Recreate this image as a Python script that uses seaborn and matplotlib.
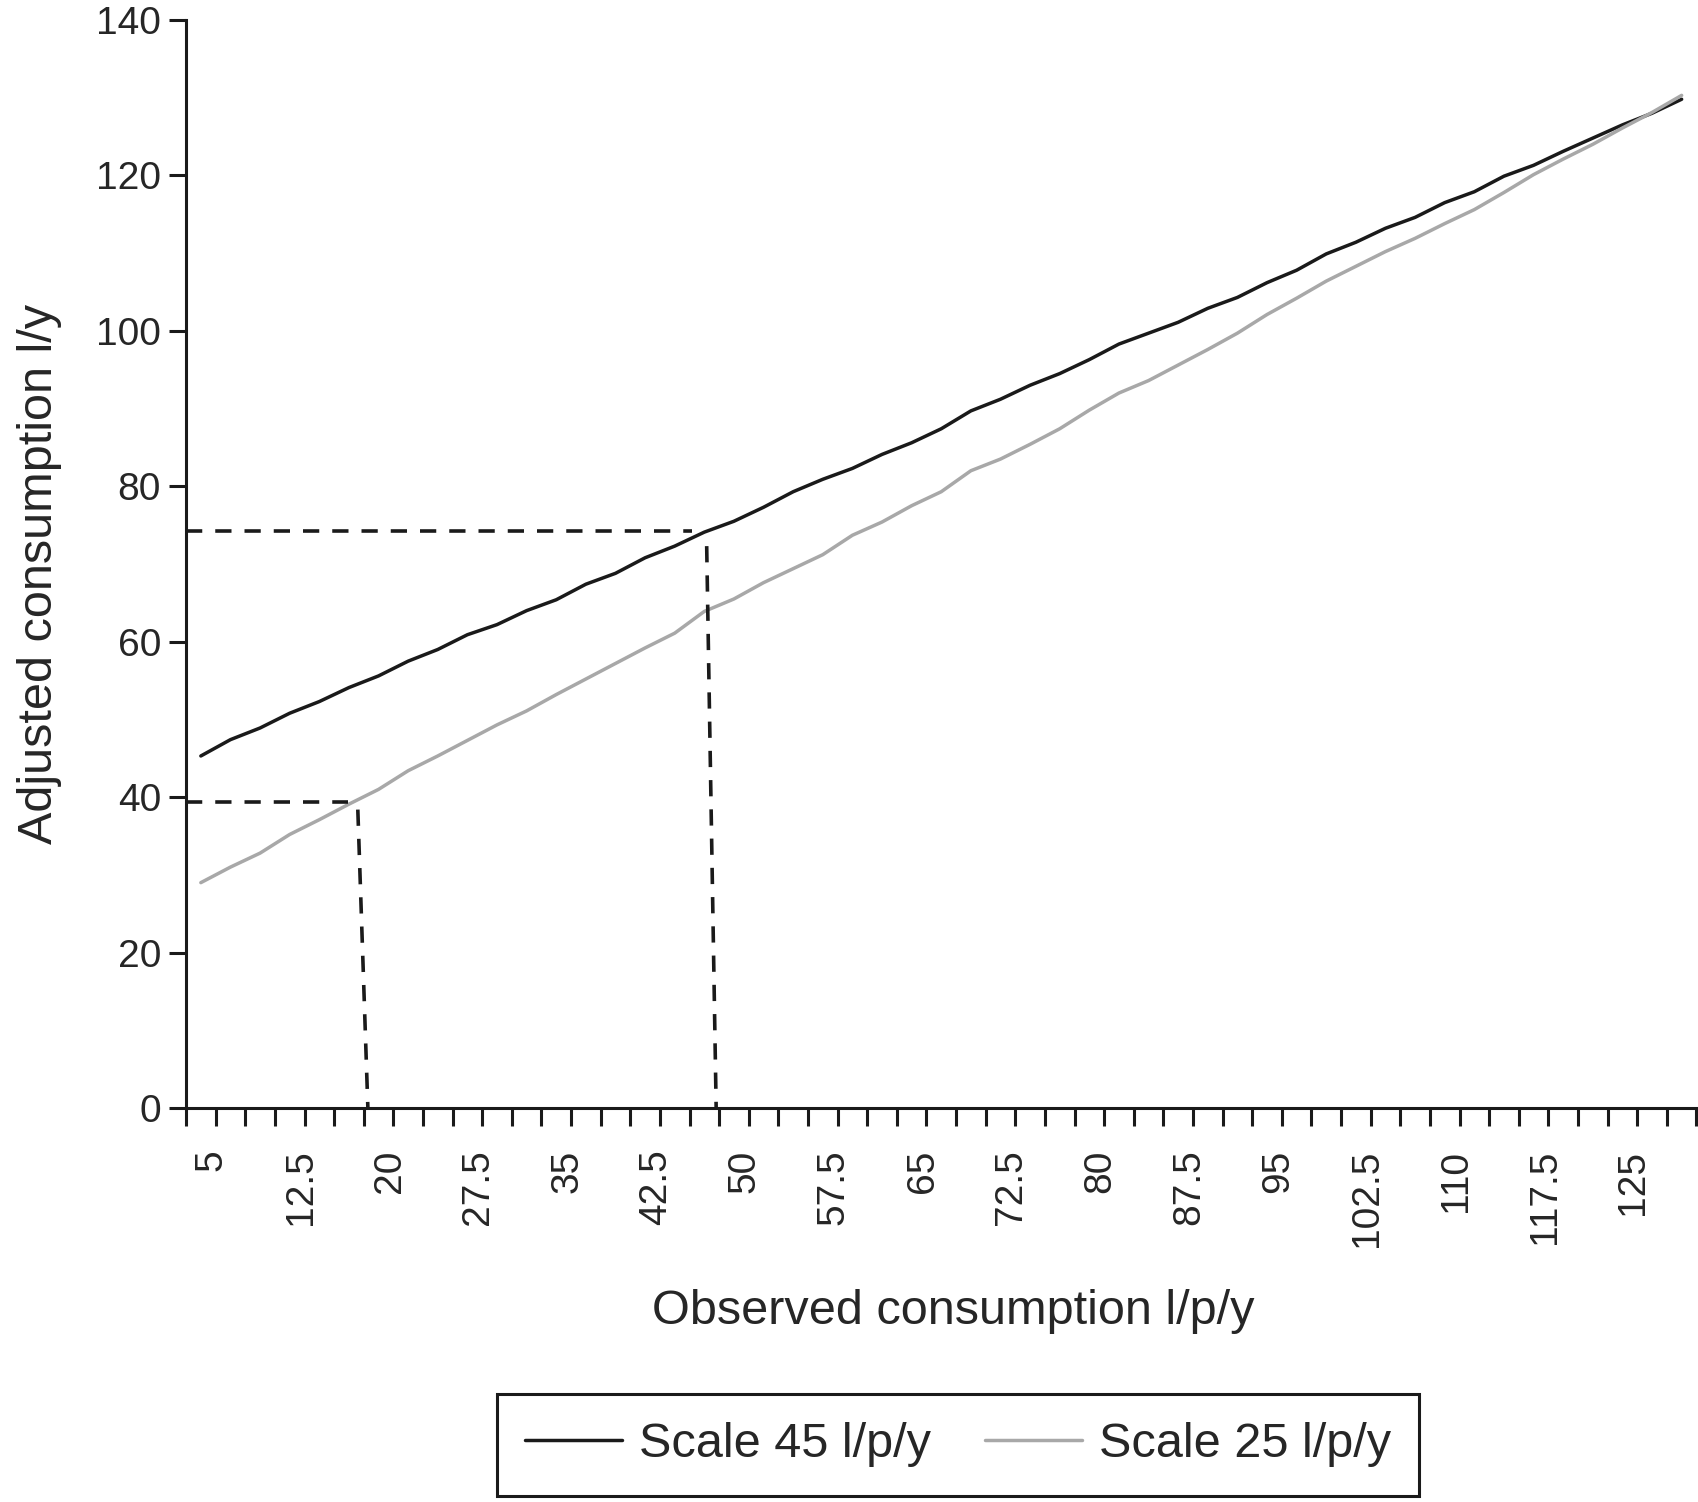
import matplotlib
matplotlib.use("Agg")
import matplotlib.pyplot as plt
import matplotlib.transforms as mtransforms
import seaborn as sns
import pandas as pd

# observed consumption categories (l/p/y)
observed = [5, 7.5, 10, 12.5, 15, 17.5, 20, 22.5, 25, 27.5,
            30, 32.5, 35, 37.5, 40, 42.5, 45, 47.5, 50, 52.5,
            55, 57.5, 60, 62.5, 65, 67.5, 70, 72.5, 75, 77.5,
            80, 82.5, 85, 87.5, 90, 92.5, 95, 97.5, 100, 102.5,
            105, 107.5, 110, 112.5, 115, 117.5, 120, 122.5, 125, 127.5, 130]

# adjusted consumption, scale 45 l/p/y
scale_45 = [45.3, 47.4, 48.9, 50.8, 52.3, 54.1, 55.6, 57.5, 59.0, 60.9,
            62.2, 64.0, 65.4, 67.4, 68.8, 70.8, 72.3, 74.1, 75.5, 77.3,
            79.3, 80.9, 82.3, 84.1, 85.6, 87.4, 89.7, 91.2, 93.0, 94.5,
            96.3, 98.3, 99.7, 101.1, 102.9, 104.3, 106.2, 107.8, 109.9, 111.4,
            113.2, 114.6, 116.5, 117.9, 119.9, 121.3, 123.1, 124.8, 126.5, 128.0, 129.8]

# adjusted consumption, scale 25 l/p/y
scale_25 = [29.0, 31.0, 32.8, 35.2, 37.1, 39.1, 41.0, 43.4, 45.3, 47.3,
            49.3, 51.1, 53.2, 55.2, 57.2, 59.2, 61.1, 63.9, 65.5, 67.6,
            69.4, 71.2, 73.7, 75.4, 77.5, 79.3, 82.0, 83.5, 85.4, 87.4,
            89.8, 92.0, 93.6, 95.6, 97.6, 99.7, 102.1, 104.2, 106.4, 108.3,
            110.2, 111.9, 113.8, 115.6, 117.8, 120.1, 122.1, 124.0, 126.1, 128.1, 130.3]

series_names = ["Scale 45 l/p/y", "Scale 25 l/p/y"]
series_colors = ["#1a1a1a", "#a8a8a8"]

# hand drawn reading guides (observed, adjusted)
guide_45_h = ([3.75, 46.5], [74.2, 74.2])
guide_45_v = ([47.7, 48.5], [72.3, 0])
guide_25_h = ([3.75, 17.4], [39.4, 39.4])
guide_25_v = ([18.25, 19.1], [38.4, 0])

x_labels = [5, 12.5, 20, 27.5, 35, 42.5, 50, 57.5, 65, 72.5, 80, 87.5,
            95, 102.5, 110, 117.5, 125]
y_ticks = [0, 20, 40, 60, 80, 100, 120, 140]

sns.set_style("ticks")
plt.rcParams['font.family'] = ['Liberation Sans', 'DejaVu Sans']

df = pd.DataFrame({
    "observed": observed * 2,
    "adjusted": scale_45 + scale_25,
    "series": [series_names[0]] * len(observed) + [series_names[1]] * len(observed),
})

fig = plt.figure(figsize=(16.99, 15.02), dpi=100)
ax = fig.add_axes([0.1095, 0.2623, 0.889, 0.7244])

sns.lineplot(data=df, x="observed", y="adjusted", hue="series",
             palette=dict(zip(series_names, series_colors)), linewidth=2.5, ax=ax)

for gx, gy in [guide_45_h, guide_45_v, guide_25_h, guide_25_v]:
    ax.plot(gx, gy, color="#1a1a1a", lw=2.6, linestyle=(0, (4.5, 3.6)))

ax.set_xlim(3.75, 131.25)
ax.set_ylim(0, 140)
ax.set_yticks(y_ticks)
ax.set_xticks(x_labels)
ax.set_xticklabels([f"{v:g}" for v in x_labels], rotation=90, va='top')
ax.set_xticks([3.75 + 2.5 * k for k in range(52)], minor=True)

ax.tick_params(axis='x', which='major', length=0, pad=30, labelsize=28)
ax.tick_params(axis='x', which='minor', length=13, width=2.2, color='#1a1a1a')
ax.tick_params(axis='y', length=12, width=2.2, pad=6, labelsize=28, color='#1a1a1a')

# labels sit a little right of the category centre, like the original
shift = mtransforms.ScaledTranslation(0.11, 0, fig.dpi_scale_trans)
for tick in ax.xaxis.get_major_ticks():
    tick.label1.set_transform(tick.label1.get_transform() + shift)

for side in ['top', 'right']:
    ax.spines[side].set_visible(False)
for side in ['left', 'bottom']:
    ax.spines[side].set_linewidth(2.2)
    ax.spines[side].set_color('#1a1a1a')

ax.set_xlabel("")
ax.set_ylabel("")
fig.text(0.561, 0.127, "Observed consumption l/p/y", fontsize=35, ha='center', va='center')
fig.text(0.023, 0.618, "Adjusted consumption l/y", fontsize=35, ha='center', va='center',
         rotation=90)

handles, labels = ax.get_legend_handles_labels()
ax.get_legend().remove()
leg = fig.legend(handles, labels, loc='center', bbox_to_anchor=(0.564, 0.038), ncol=2,
                 fontsize=35, frameon=True, fancybox=False, edgecolor='#1a1a1a',
                 framealpha=1, handlelength=2.0, handletextpad=0.35, columnspacing=1.1,
                 borderpad=0.58, borderaxespad=0)
leg.get_frame().set_linewidth(2.2)
for line in leg.get_lines():
    line.set_linewidth(2.5)

fig.savefig("out.png", dpi=100)
